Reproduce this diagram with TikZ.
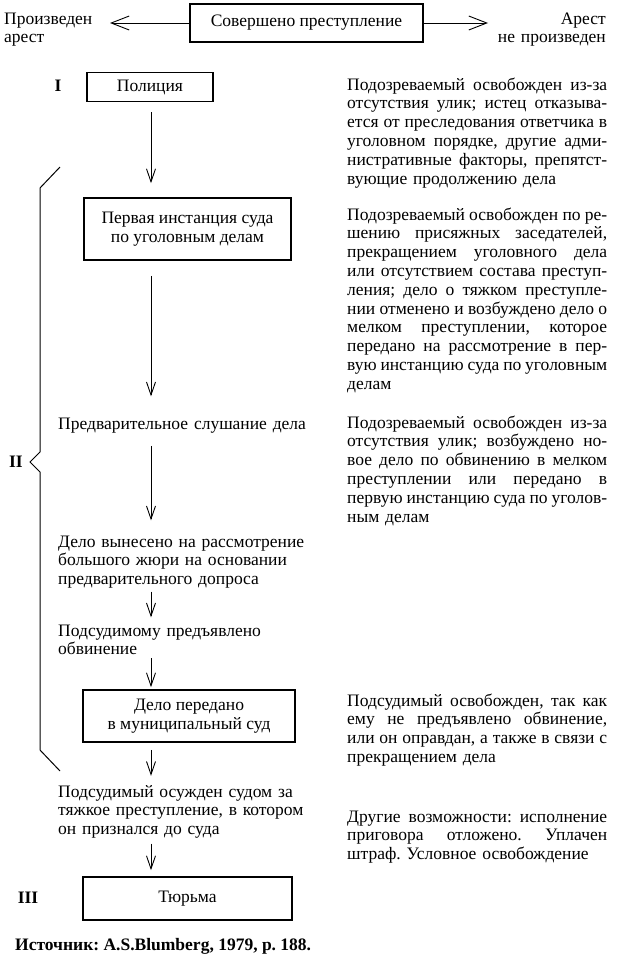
\documentclass[tikz,border=0pt]{standalone}
\usepackage{fontspec}
\setmainfont{Liberation Serif}
\usetikzlibrary{arrows.meta,calc}
\frenchspacing
\newcommand\jl[1]{{\spaceskip=0.22em plus 1em minus 0.1em\relax\makebox[\linewidth][s]{#1}}}
\begin{document}
\begin{tikzpicture}[x=1pt,y=-1pt,
  every node/.style={font=\fontsize{17.5}{18.8}\selectfont\frenchspacing, inner sep=0pt},
  boxnode/.style={draw, line width=1.6pt, align=center, inner sep=0pt},
  arr/.style={line width=0.9pt, -{Straight Barb[length=13pt,width=9pt,line width=0.9pt]}},
  harr/.style={line width=0.9pt, -{Straight Barb[length=18pt,width=14pt,line width=0.9pt]}},
  txt/.style={anchor=base west, text width=270pt, align=left},
  rtxt/.style={anchor=base west, text width=260pt, align=left},
  num/.style={font=\fontsize{17.5}{18.8}\selectfont\bfseries},
  brace/.style={line width=1pt}
]
\useasboundingbox (0,0) rectangle (628,972);

% top row
\node[boxnode, minimum width=233pt, minimum height=38pt] (crime) at (306.5,23) {Совершено преступление};
\node[anchor=base west, text width=120pt, align=left] (made) at (4,24) {Произведен\\арест};
\node[anchor=base east, text width=120pt, align=right] (notmade) at (606,24) {Арест\\не произведен};
\coordinate (lend) at (110,23);
\coordinate (rend) at (488,23);
\draw[harr] (crime.west) -- (lend);
\draw[harr] (crime.east) -- (rend);

% left column
\coordinate (col) at (151,0);
\node[num] (one) at (58,86) {I};
\node[boxnode, minimum width=126pt, minimum height=29pt] (police) at (150,87) {Полиция};
\node[boxnode, minimum width=207pt, minimum height=62pt] (first) at (187.5,229) {Первая инстанция суда\\по уголовным делам};
\node[txt] (prelim) at (58,429) {Предварительное слушание дела};
\node[txt] (jury) at (58,547) {Дело вынесено на рассмотрение\\большого жюри на основании\\предварительного допроса};
\node[txt] (charged) at (58,636) {Подсудимому предъявлено\\обвинение};
\node[boxnode, minimum width=212pt, minimum height=52pt] (muni) at (189,716) {Дело передано\\в муниципальный суд};
\node[txt] (convicted) at (58,797) {Подсудимый осужден судом за\\тяжкое преступление, в котором\\он признался до суда};
\node[num] (two) at (16,462) {II};
\node[num] (three) at (28,898) {III};
\node[boxnode, minimum width=209pt, minimum height=43pt] (prison) at (187.5,898.5) {Тюрьма};
\node[anchor=base west, font=\fontsize{17.5}{18.8}\selectfont\bfseries] (src) at (15,950) {Источник: A.S.Blumberg, 1979, p. 188.};

% vertical arrows
\draw[arr, shorten <=10pt, shorten >=14pt] (police.south -| col) -- (first.north -| col);
\draw[arr, shorten <=15pt, shorten >=21pt] (first.south -| col) -- (prelim.north -| col);
\draw[arr, shorten <=13pt, shorten >=15pt] (prelim.south -| col) -- (jury.north -| col);
\draw[arr, shorten <=3pt, shorten >=7pt] (jury.south -| col) -- (charged.north -| col);
\draw[arr, shorten <=3pt, shorten >=2pt] (charged.south -| col) -- (muni.north -| col);
\draw[arr, shorten <=7pt, shorten >=9pt] (muni.south -| col) -- (convicted.north -| col);
\draw[arr, shorten <=5pt, shorten >=6pt] (convicted.south -| col) -- (prison.north -| col);

% brace
\draw[brace] (60,167) -- (40,188) -- (40,452) -- (30,462) -- (40,472) -- (40,750) -- (60,771);

% right column
\node[rtxt] (r1) at (347,90) {\jl{Подозреваемый освобожден из-за}\\
\jl{отсутствия улик; истец отказыва-}\\
\jl{ется от преследования ответчика в}\\
\jl{уголовном порядке, другие адми-}\\
\jl{нистративные факторы, препятст-}\\
вующие продолжению дела};
\node[rtxt] (r2) at (347,220) {\jl{Подозреваемый освобожден по ре-}\\
\jl{шению присяжных заседателей,}\\
\jl{прекращением уголовного дела}\\
\jl{или отсутствием состава преступ-}\\
\jl{ления; дело о тяжком преступле-}\\
\jl{нии отменено и возбуждено дело о}\\
\jl{мелком преступлении, которое}\\
\jl{передано на рассмотрение в пер-}\\
\jl{вую инстанцию суда по уголовным}\\
делам};
\node[rtxt] (r3) at (347,428) {\jl{Подозреваемый освобожден из-за}\\
\jl{отсутствия улик; возбуждено но-}\\
\jl{вое дело по обвинению в мелком}\\
\jl{преступлении или передано в}\\
\jl{первую инстанцию суда по уголов-}\\
ным делам};
\node[rtxt] (r4) at (347,706) {\jl{Подсудимый освобожден, так как}\\
\jl{ему не предъявлено обвинение,}\\
\jl{или он оправдан, а также в связи с}\\
прекращением дела};
\node[rtxt] (r5) at (347,822) {\jl{Другие возможности: исполнение}\\
\jl{приговора отложено. Уплачен}\\
штраф. Условное освобождение};
\end{tikzpicture}
\end{document}
